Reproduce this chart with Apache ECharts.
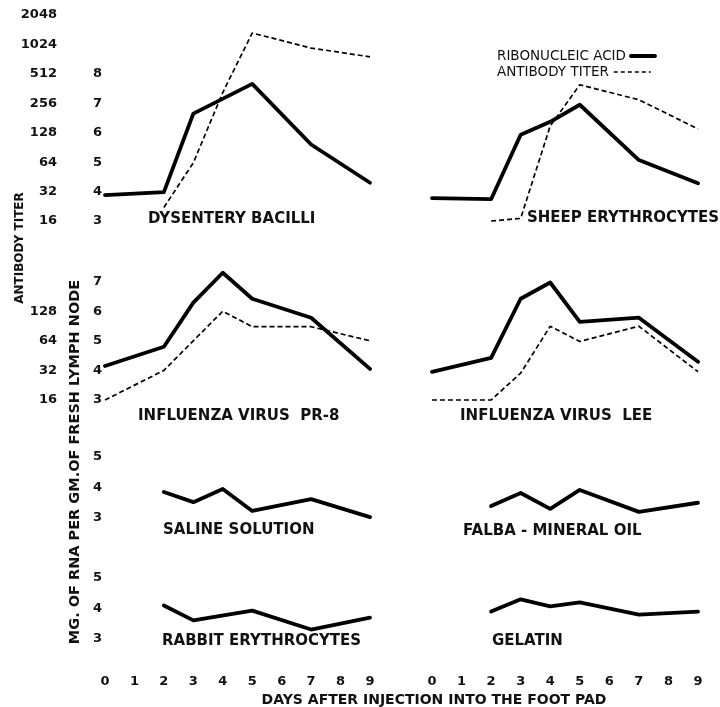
<!DOCTYPE html>
<html>
<head>
<meta charset="utf-8">
<script src="https://cdn.jsdelivr.net/npm/echarts@6/dist/echarts.min.js"></script>
<style>
html,body{margin:0;padding:0;background:#fff;}
#chart{width:720px;height:707px;}
</style>
</head>
<body>
<div id="chart"></div>
<script>
// ---------- DATA ----------
const dayTicks = [0, 1, 2, 3, 4, 5, 6, 7, 8, 9];

const dysenteryRnaDays = [0, 2, 3, 5, 7, 9];
const dysenteryRna     = [3.88, 3.98, 6.65, 7.66, 5.6, 4.3];
const dysenteryAbDays  = [2, 3, 4, 5, 7, 9];
const dysenteryTiter   = [22, 63, 330, 1340, 940, 765];

const sheepRnaDays = [0, 2, 3, 4, 5, 7, 9];
const sheepRna     = [3.78, 3.74, 5.93, 6.37, 6.95, 5.07, 4.28];
const sheepAbDays  = [2, 3, 4, 5, 7, 9];
const sheepTiter   = [16, 17, 150, 396, 278, 140];

const pr8RnaDays = [0, 2, 3, 4, 5, 7, 9];
const pr8Rna     = [4.15, 4.8, 6.29, 7.3, 6.42, 5.78, 4.05];
const pr8AbDays  = [0, 2, 4, 5, 7, 9];
const pr8Titer   = [16, 32, 128, 89, 89, 64];

const leeRnaDays = [0, 2, 3, 4, 5, 7, 9];
const leeRna     = [3.95, 4.42, 6.42, 6.97, 5.64, 5.78, 4.29];
const leeAbDays  = [0, 2, 3, 4, 5, 7, 9];
const leeTiter   = [16, 16, 30, 90, 63, 90, 31];

const salineDays = [2, 3, 4, 5, 7, 9];
const salineRna  = [3.85, 3.52, 3.95, 3.23, 3.62, 3.03];

const falbaDays = [2, 3, 4, 5, 7, 9];
const falbaRna  = [3.39, 3.82, 3.3, 3.92, 3.2, 3.5];

const rabbitDays = [2, 3, 5, 7, 9];
const rabbitRna  = [4.1, 3.61, 3.93, 3.31, 3.7];

const gelatinDays = [2, 3, 4, 5, 7, 9];
const gelatinRna  = [3.9, 4.3, 4.07, 4.2, 3.8, 3.9];

const panelNames = ['DYSENTERY BACILLI', 'SHEEP ERYTHROCYTES',
  'INFLUENZA VIRUS  PR-8', 'INFLUENZA VIRUS  LEE',
  'SALINE SOLUTION', 'FALBA - MINERAL OIL',
  'RABBIT ERYTHROCYTES', 'GELATIN'];

const rnaName = 'RIBONUCLEIC ACID';
const abName = 'ANTIBODY TITER';

// ---------- LAYOUT ----------
const FONT = 'DejaVu Sans';
const rows = [
  {top: 15,  height: 206, min: 3, max: 10, rnaLabelMax: 8, ab: {min: 16, max: 2048, labelMax: 2048}},
  {top: 252, height: 148, min: 3, max: 8,  rnaLabelMax: 7, ab: {min: 16, max: 512, labelMax: 128}},
  {top: 457, height: 61,  min: 3, max: 5,  rnaLabelMax: 5, ab: null},
  {top: 578, height: 61,  min: 3, max: 5,  rnaLabelMax: 5, ab: null}
];
const cols = [{left: 105, width: 265}, {left: 432, width: 266}];

const panelData = [
  {rd: dysenteryRnaDays, r: dysenteryRna, ad: dysenteryAbDays, a: dysenteryTiter},
  {rd: sheepRnaDays, r: sheepRna, ad: sheepAbDays, a: sheepTiter},
  {rd: pr8RnaDays, r: pr8Rna, ad: pr8AbDays, a: pr8Titer},
  {rd: leeRnaDays, r: leeRna, ad: leeAbDays, a: leeTiter},
  {rd: salineDays, r: salineRna},
  {rd: falbaDays, r: falbaRna},
  {rd: rabbitDays, r: rabbitRna},
  {rd: gelatinDays, r: gelatinRna}
];

// title positions: [left, centerY]
const titlePos = [[148, 221], [527, 220], [138, 418], [460, 418], [163, 532], [463, 533], [162, 643], [492, 643]];

const grid = [], xAxis = [], yAxis = [], series = [], title = [];
const labelStyle = {color: '#111', fontFamily: FONT, fontWeight: 'bold', fontSize: 13};

rows.forEach((row, ri) => {
  cols.forEach((col, ci) => {
    const gi = ri * 2 + ci;
    grid.push({left: col.left, width: col.width, top: row.top, height: row.height});
    const bottomRow = ri === rows.length - 1;
    xAxis.push({
      type: 'value', gridIndex: gi, min: 0, max: 9, interval: 1,
      axisLine: {show: false}, axisTick: {show: false}, splitLine: {show: false},
      axisLabel: Object.assign({show: bottomRow, margin: 36,
        formatter: v => dayTicks.indexOf(v) >= 0 ? String(v) : ''}, labelStyle)
    });
    const rnaIdx = yAxis.length;
    yAxis.push({
      type: 'value', gridIndex: gi, min: row.min, max: row.max, interval: 1, position: 'left',
      axisLine: {show: false}, axisTick: {show: false}, splitLine: {show: false},
      axisLabel: Object.assign({show: ci === 0, margin: 3,
        formatter: v => v <= row.rnaLabelMax ? String(v) : ''}, labelStyle)
    });
    let abIdx = null;
    if (row.ab) {
      abIdx = yAxis.length;
      yAxis.push({
        type: 'log', logBase: 2, gridIndex: gi, min: row.ab.min, max: row.ab.max, position: 'left', offset: 40,
        axisLine: {show: false}, axisTick: {show: false}, splitLine: {show: false},
        axisLabel: Object.assign({show: ci === 0, margin: 8,
          formatter: v => v <= row.ab.labelMax ? String(Math.round(v)) : ''}, labelStyle)
      });
    }
    const pd = panelData[gi];
    series.push({
      name: rnaName, type: 'line', xAxisIndex: gi, yAxisIndex: rnaIdx,
      data: pd.rd.map((d, i) => [d, pd.r[i]]),
      symbol: 'none', clip: false, silent: true,
      lineStyle: {color: '#000', width: 3.8, cap: 'round', join: 'round'}, itemStyle: {color: '#000'}
    });
    if (abIdx !== null && pd.a) {
      series.push({
        name: abName, type: 'line', xAxisIndex: gi, yAxisIndex: abIdx,
        data: pd.ad.map((d, i) => [d, pd.a[i]]),
        symbol: 'none', clip: false, silent: true,
        lineStyle: {color: '#000', width: 1.7, type: [5, 3]}, itemStyle: {color: '#000'}
      });
    }
    title.push({
      text: panelNames[gi], left: titlePos[gi][0], top: titlePos[gi][1] - 9, padding: 0,
      textStyle: {color: '#111', fontFamily: FONT, fontWeight: 'bold', fontSize: 15}
    });
  });
});

const legendText = {color: '#111', fontFamily: FONT, fontSize: 13.5, padding: 0};
const chart = echarts.init(document.getElementById('chart'), null, {renderer: 'canvas'});
chart.setOption({
  animation: false,
  backgroundColor: '#fff',
  title: title,
  grid: grid, xAxis: xAxis, yAxis: yAxis, series: series,
  legend: [
    {data: [rnaName], orient: 'horizontal', left: 497, top: 49, align: 'right',
      itemWidth: 24, itemHeight: 12, padding: 0, selectedMode: false, itemGap: 0,
      itemStyle: {opacity: 0}, lineStyle: {width: 4, color: '#000', type: 'solid'}, textStyle: legendText},
    {data: [abName], orient: 'horizontal', left: 497, top: 65, align: 'right',
      itemWidth: 37, itemHeight: 12, padding: 0, selectedMode: false, itemGap: 0,
      itemStyle: {opacity: 0}, lineStyle: {width: 1.7, color: '#000', type: [4, 3]}, textStyle: legendText}
  ],
  graphic: [
    {type: 'text', x: 20, y: 248, rotation: Math.PI / 2,
      style: {text: 'ANTIBODY TITER', fill: '#111', font: 'bold 12px ' + FONT, align: 'center', verticalAlign: 'middle'}},
    {type: 'text', x: 75, y: 462, rotation: Math.PI / 2,
      style: {text: 'MG. OF RNA PER GM.OF FRESH LYMPH NODE', fill: '#111', font: 'bold 14.5px ' + FONT, align: 'center', verticalAlign: 'middle'}},
    {type: 'text', x: 434, y: 700,
      style: {text: 'DAYS AFTER INJECTION INTO THE FOOT PAD', fill: '#111', font: 'bold 14px ' + FONT, align: 'center', verticalAlign: 'middle'}}
  ]
});
</script>
</body>
</html>
